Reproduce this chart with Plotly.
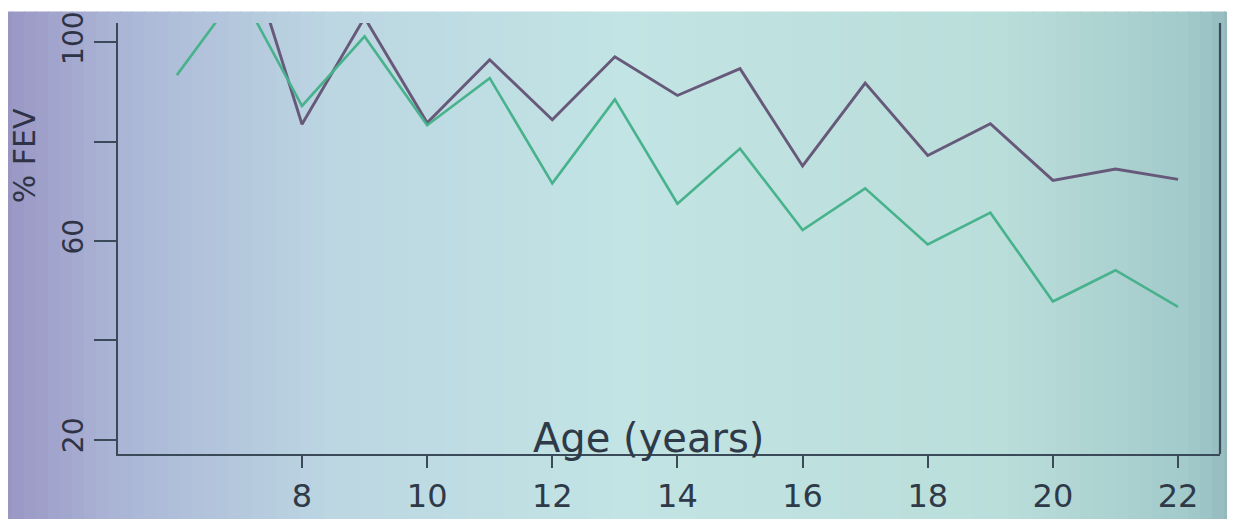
import plotly.graph_objects as go

# ---- data ----
ages = [6, 7, 8, 9, 10, 11, 12, 13, 14, 15, 16, 17, 18, 19, 20, 21, 22]
fev_purple = [None, 123.7, 83.5, 105.0, 83.8, 96.5, 84.4, 97.1, 89.3, 94.7,
              75.1, 91.8, 77.2, 83.6, 72.2, 74.5, 72.4]
fev_green = [93.4, 110.5, 87.2, 101.2, 83.3, 92.8, 71.6, 88.5, 67.5, 78.6,
             62.2, 70.6, 59.3, 65.7, 47.8, 54.1, 46.7]
y_tickvals = [20, 40, 60, 80, 100]
y_ticktext = ["20", "", "60", "", "100"]
x_tickvals = [8, 10, 12, 14, 16, 18, 20, 22]
x_ticktext = ["8", "10", "12", "14", "16", "18", "20", "22"]

W, H = 1227, 511          # fits the 1235x519 window with the 8px body margin
OFF = 8
L, R, T, B = 110, 15, 4, 61
PW, PH = W - L - R, H - T - B

def px_x(p):  # page pixel -> paper x
    return (p - OFF - L) / PW

def px_y(p):  # page pixel -> paper y
    return 1 - (p - OFF - T) / PH

fig = go.Figure()

fig.add_trace(go.Scatter(x=ages, y=fev_purple, mode="lines",
                         line=dict(color="#67597a", width=2.9),
                         connectgaps=False, showlegend=False))
fig.add_trace(go.Scatter(x=ages, y=fev_green, mode="lines",
                         line=dict(color="#48b28c", width=2.6),
                         showlegend=False))

# background vignette (photo of a projected slide)
def lerp(c1, c2, t):
    return tuple(round(a + (b - a) * t) for a, b in zip(c1, c2))

stops = [(0, (152, 148, 194)), (110, (170, 180, 214)), (330, (188, 214, 226)),
         (620, (194, 228, 228)), (1000, (186, 222, 218)), (1190, (162, 202, 202)),
         (1250, (140, 176, 182))]
shapes = []
step = 12
xp = 0
while xp < 1250:
    mid = xp + step / 2
    c = stops[-1][1]
    for i in range(len(stops) - 1):
        if stops[i][0] <= mid <= stops[i + 1][0]:
            t = (mid - stops[i][0]) / (stops[i + 1][0] - stops[i][0])
            c = lerp(stops[i][1], stops[i + 1][1], t)
            break
    shapes.append(dict(type="rect", xref="paper", yref="paper",
                       x0=px_x(xp), x1=px_x(xp + step + 1), y0=px_y(540), y1=px_y(0),
                       fillcolor="rgb(%d,%d,%d)" % c, line=dict(width=0), layer="below"))
    xp += step

# right frame line of the box
shapes.append(dict(type="line", xref="paper", yref="paper", x0=1, x1=1, y0=0, y1=1,
                   line=dict(color="#3a4a58", width=2.2), layer="above"))

annotations = [
    dict(text="Age (years)", xref="paper", yref="paper", x=px_x(648), y=px_y(441),
         showarrow=False, font=dict(family="DejaVu Sans", size=40, color="#2f3a48"),
         xanchor="center", yanchor="middle"),
    dict(text="% FEV", xref="paper", yref="paper", x=px_x(24), y=px_y(150),
         showarrow=False, textangle=-90, font=dict(family="DejaVu Sans", size=30, color="#2f3346"),
         xanchor="center", yanchor="middle"),
]

fig.update_layout(
    width=W, height=H,
    margin=dict(l=L, r=R, t=T, b=B, pad=0),
    paper_bgcolor="white",
    plot_bgcolor="rgba(0,0,0,0)",
    shapes=shapes,
    annotations=annotations,
    xaxis=dict(range=[5.06, 22.67], tickvals=x_tickvals, ticktext=x_ticktext,
               showgrid=False, zeroline=False, showline=True, linecolor="#3a4a58", linewidth=2.2,
               ticks="outside", ticklen=12, tickwidth=2, tickcolor="#3a4a58",
               tickfont=dict(family="DejaVu Sans", size=32, color="#2f3a48")),
    yaxis=dict(range=[17.08, 103.9], tickvals=y_tickvals, ticktext=y_ticktext,
               showgrid=False, zeroline=False, showline=True, linecolor="#3a4a58", linewidth=2.2,
               ticks="outside", ticklen=22, tickwidth=2, tickcolor="#3a4a58", tickangle=-90,
               ticklabeloverflow="allow",
               tickfont=dict(family="DejaVu Sans", size=28, color="#2f3346")),
    showlegend=False,
)

fig.write_html("out.html")
